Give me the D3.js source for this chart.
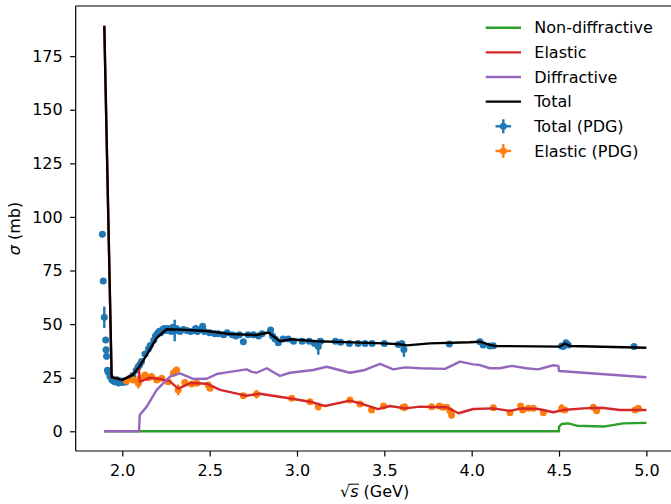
<!DOCTYPE html>
<html>
<head>
<meta charset="utf-8">
<script src="https://cdn.jsdelivr.net/npm/d3@7"></script>
<style>
  html, body { margin: 0; padding: 0; background: #fff; }
  svg { display: block; font-family: "DejaVu Sans", sans-serif; }
</style>
</head>
<body>
<svg id="chart" width="671" height="504"></svg>
<script>
// ---- model curves: sqrt(s) in GeV, cross sections in mb ----
const nonDiffX = [1.897, 4.5, 4.5, 4.515, 4.553, 4.601, 4.754, 4.868, 5.0];
const nonDiffY = [0, 0, 2.2, 3.4, 3.7, 2.6, 2.2, 3.7, 3.9];

const elasticX = [1.897, 1.939, 2.0, 2.06, 2.095, 2.1, 2.158, 2.216, 2.27, 2.32, 2.39, 2.483, 2.56,
  2.707, 2.788, 2.955, 3.074, 3.16, 3.303, 3.38, 3.465, 3.532, 3.618, 3.704, 3.771, 3.857, 3.925,
  4.009, 4.124, 4.219, 4.286, 4.381, 4.467, 4.524, 4.639, 4.744, 4.849, 5.0];
const elasticY = [189.2, 25.2, 24.0, 26.3, 29.8, 23.1, 25.0, 24.4, 23.4, 19.9, 22.5, 22.2, 19.3,
  16.6, 17.5, 15.4, 13.8, 11.8, 14.3, 12.6, 10.3, 11.8, 10.7, 11.5, 11.3, 11.2, 8.4,
  10.4, 10.7, 9.5, 10.7, 10.4, 8.9, 9.9, 10.7, 11.0, 9.9, 9.9];

const diffX = [1.897, 2.096, 2.1, 2.14, 2.197, 2.273, 2.33, 2.406, 2.483, 2.54, 2.616, 2.712, 2.741,
  2.769, 2.827, 2.903, 2.96, 3.093, 3.17, 3.303, 3.389, 3.475, 3.551, 3.618, 3.704, 3.847, 3.933,
  4.009, 4.047, 4.104, 4.161, 4.229, 4.314, 4.381, 4.467, 4.496, 4.5, 5.0];
const diffY = [0, 0, 7.6, 11.5, 19.3, 25.5, 27.0, 24.4, 24.5, 26.7, 27.7, 28.9, 27.7,
  27.3, 29.4, 25.8, 27.3, 28.6, 30.1, 27.3, 28.6, 31.4, 28.9, 29.8, 29.4, 29.1, 32.5,
  31.2, 30.9, 29.4, 29.4, 30.5, 29.4, 28.9, 30.8, 30.5, 28.1, 25.2];

const totalX = [1.897, 1.939, 2.0, 2.06, 2.1, 2.14, 2.197, 2.254, 2.33, 2.483, 2.616, 2.769, 2.836,
  2.903, 2.96, 3.113, 3.227, 3.495, 3.59, 3.628, 3.76, 3.99, 4.047, 4.104, 4.133, 4.506, 4.534,
  4.563, 5.0];
const totalY = [189.2, 25.3, 24.0, 26.3, 30.5, 35.6, 43.6, 47.6, 47.4, 46.8, 45.4, 44.9, 46.1,
  42.0, 42.9, 42.0, 41.7, 41.0, 40.6, 40.1, 41.0, 41.5, 41.8, 40.3, 39.8, 39.5, 41.0,
  39.8, 39.0];

// ---- measured points (PDG) ----
const pdgTotalX = [1.886, 1.891, 1.897, 1.905, 1.907, 1.910, 1.915, 1.920, 1.930, 1.940, 1.950, 1.960,
  1.970, 1.980, 1.990, 2.000, 2.010, 2.020, 2.040, 2.060, 2.080, 2.090, 2.100, 2.110, 2.130, 2.150,
  2.160, 2.180, 2.190, 2.200, 2.210, 2.220, 2.230, 2.240, 2.250, 2.260, 2.270, 2.280, 2.290, 2.300,
  2.310, 2.320, 2.330, 2.350, 2.370, 2.390, 2.410, 2.420, 2.430, 2.450, 2.460, 2.470, 2.500, 2.530,
  2.550, 2.580, 2.600, 2.630, 2.650, 2.670, 2.693, 2.720, 2.750, 2.780, 2.800, 2.849, 2.860, 2.875,
  2.893, 2.920, 2.950, 2.980, 3.030, 3.070, 3.100, 3.122, 3.135, 3.220, 3.250, 3.300, 3.350, 3.390,
  3.430, 3.500, 3.580, 3.600, 3.612, 3.872, 4.047, 4.066, 4.104, 4.124, 4.515, 4.524, 4.540, 4.553,
  4.929];
const pdgTotalY = [91.9, 70.1, 53.2, 42.6, 38.0, 35.0, 28.5, 27.5, 25.5, 24.0, 23.5, 23.0,
  24.0, 22.5, 23.5, 22.8, 23.5, 23.0, 24.5, 26.0, 28.5, 30.0, 31.0, 32.5, 36.0, 38.5,
  40.0, 42.5, 44.5, 45.5, 46.5, 46.0, 47.5, 48.0, 47.0, 48.0, 47.5, 46.5, 48.5, 47.0,
  48.0, 47.0, 46.5, 47.5, 47.0, 46.5, 47.0, 48.0, 46.5, 47.5, 49.0, 46.5, 46.0, 45.5,
  45.5, 45.0, 46.0, 45.0, 44.5, 45.0, 41.8, 45.0, 45.0, 44.5, 45.5, 47.3, 44.5, 43.0,
  41.3, 43.0, 43.0, 42.0, 42.0, 42.0, 41.0, 39.5, 42.0, 42.0, 41.5, 41.0, 41.0, 41.0,
  41.0, 41.0, 40.5, 41.0, 38.2, 40.7, 41.8, 40.3, 39.8, 39.9, 39.8, 39.5, 41.3, 40.3,
  39.5];
const pdgTotalErr = [1.0, 1.0, 5.0, 1.0, 1.0, 1.5, 1.0, 1.0, 1.0, 0.8, 0.8, 0.8,
  0.8, 0.8, 0.8, 0.8, 0.8, 0.8, 0.8, 0.8, 0.8, 0.8, 0.8, 0.8, 0.8, 0.8,
  0.8, 0.8, 0.8, 0.8, 0.8, 0.8, 0.8, 0.8, 0.8, 0.8, 0.8, 0.8, 1.0, 5.0,
  0.8, 0.8, 0.8, 0.8, 0.8, 0.8, 0.8, 1.5, 0.8, 0.8, 1.0, 0.8, 0.8, 0.8,
  0.8, 0.8, 0.8, 0.8, 0.8, 0.8, 1.0, 0.8, 0.8, 0.8, 0.8, 1.0, 0.8, 0.8,
  0.8, 0.8, 0.8, 0.8, 0.8, 0.8, 0.8, 3.8, 0.8, 0.8, 0.8, 0.8, 0.8, 0.8,
  0.8, 0.8, 0.8, 0.8, 3.5, 0.8, 0.8, 0.8, 0.8, 0.8, 0.8, 0.8, 1.0, 0.8,
  0.8];

const pdgElasticX = [2.025, 2.063, 2.092, 2.100, 2.110, 2.130, 2.150, 2.168, 2.197, 2.226, 2.263,
  2.292, 2.301, 2.311, 2.320, 2.358, 2.397, 2.426, 2.492, 2.502, 2.693, 2.769, 2.970, 3.074, 3.122,
  3.303, 3.360, 3.427, 3.495, 3.607, 3.618, 3.771, 3.815, 3.834, 3.857, 3.876, 3.885, 4.124, 4.219,
  4.280, 4.292, 4.324, 4.353, 4.410, 4.515, 4.534, 4.696, 4.715, 4.935, 4.954];
const pdgElasticY = [23.5, 23.9, 22.4, 24.7, 24.7, 26.3, 25.0, 25.5, 23.9, 24.7, 23.1,
  27.1, 27.8, 28.6, 19.3, 22.7, 22.1, 22.4, 21.6, 20.1, 16.6, 17.3, 15.4, 13.8, 11.5,
  14.6, 12.7, 9.9, 11.8, 11.2, 11.2, 11.5, 11.8, 11.2, 11.2, 9.6, 7.6, 11.0, 8.7,
  11.8, 9.9, 10.7, 10.7, 8.7, 10.7, 9.9, 11.2, 9.6, 9.9, 10.7];
const pdgElasticErr = [1.0, 1.0, 2.5, 1.0, 1.0, 1.0, 1.0, 1.0, 1.0, 1.0, 1.0,
  1.0, 1.0, 1.5, 2.5, 1.0, 1.0, 1.0, 1.0, 1.0, 1.0, 2.0, 1.0, 1.0, 1.8,
  1.0, 1.0, 1.0, 1.0, 1.0, 1.8, 1.0, 1.0, 1.0, 1.0, 1.0, 1.8, 1.0, 1.0,
  1.0, 1.0, 1.0, 1.0, 1.0, 2.0, 1.0, 1.0, 1.0, 1.0, 1.0];

const xTicks = [2.0, 2.5, 3.0, 3.5, 4.0, 4.5, 5.0];
const yTicks = [0, 25, 50, 75, 100, 125, 150, 175];

const colors = {
  nonDiff: "#2ca02c", elastic: "#d62728", diff: "#9467bd", total: "#000000",
  pdgTotal: "#1f77b4", pdgElastic: "#ff7f0e"
};

// ---- layout ----
const svg = d3.select("#chart");
const plotLeft = 75.7, plotRight = 673.6, plotTop = 6, plotBottom = 451;
const x = d3.scaleLinear().domain([1.7333, 5.1558]).range([plotLeft, plotRight]);
const y = d3.scaleLinear().domain([-9.2, 198.4]).range([plotBottom, plotTop]);
const fontSize = 16;
const lineW = 2.4;

svg.append("defs").append("clipPath").attr("id", "plotArea")
  .append("rect").attr("x", plotLeft).attr("y", plotTop)
  .attr("width", plotRight - plotLeft).attr("height", plotBottom - plotTop);

const plot = svg.append("g").attr("clip-path", "url(#plotArea)");

// measured points with error bars
function drawPoints(xs, ys, es, color) {
  const g = plot.append("g");
  const idx = d3.range(xs.length);
  g.selectAll("line.err").data(idx).join("line")
    .attr("x1", i => x(xs[i])).attr("x2", i => x(xs[i]))
    .attr("y1", i => y(ys[i] - es[i])).attr("y2", i => y(ys[i] + es[i]))
    .attr("stroke", color).attr("stroke-width", lineW);
  g.selectAll("circle").data(idx).join("circle")
    .attr("cx", i => x(xs[i])).attr("cy", i => y(ys[i]))
    .attr("r", 3.5).attr("fill", color);
}
drawPoints(pdgTotalX, pdgTotalY, pdgTotalErr, colors.pdgTotal);
drawPoints(pdgElasticX, pdgElasticY, pdgElasticErr, colors.pdgElastic);

// model curves
const line = d3.line().x(d => x(d[0])).y(d => y(d[1]));
function drawCurve(xs, ys, color) {
  plot.append("path")
    .attr("d", line(xs.map((v, i) => [v, ys[i]])))
    .attr("fill", "none").attr("stroke", color)
    .attr("stroke-width", lineW).attr("stroke-linejoin", "round")
    .attr("stroke-linecap", "butt");
}
drawCurve(nonDiffX, nonDiffY, colors.nonDiff);
drawCurve(elasticX, elasticY, colors.elastic);
drawCurve(diffX, diffY, colors.diff);
drawCurve(totalX, totalY, colors.total);

// axes
const xAxis = d3.axisBottom(x).tickValues(xTicks).tickFormat(d3.format(".1f"))
  .tickSize(5.6).tickPadding(8);
const yAxis = d3.axisLeft(y).tickValues(yTicks).tickFormat(d3.format("d"))
  .tickSize(5.6).tickPadding(7.4);

const gx = svg.append("g").attr("transform", `translate(0,${plotBottom})`).call(xAxis);
const gy = svg.append("g").attr("transform", `translate(${plotLeft},0)`).call(yAxis);
[gx, gy].forEach(g => {
  g.select(".domain").remove();
  g.selectAll(".tick line").attr("stroke", "#000").attr("stroke-width", 1.2);
  g.selectAll(".tick text").attr("fill", "#000")
    .style("font-family", "DejaVu Sans").style("font-size", fontSize + "px");
});

// spines
const spine = svg.append("g").attr("stroke", "#000").attr("stroke-width", 1.2).attr("fill", "none");
spine.append("line").attr("x1", plotLeft).attr("x2", plotLeft).attr("y1", plotTop).attr("y2", plotBottom);
spine.append("line").attr("x1", plotLeft).attr("x2", plotRight).attr("y1", plotBottom).attr("y2", plotBottom);
spine.append("line").attr("x1", plotLeft).attr("x2", plotRight).attr("y1", plotTop).attr("y2", plotTop);
spine.append("line").attr("x1", plotRight).attr("x2", plotRight).attr("y1", plotTop).attr("y2", plotBottom);

// axis labels
const xl = svg.append("text")
  .attr("x", (plotLeft + plotRight) / 2).attr("y", 497)
  .attr("text-anchor", "middle").style("font-size", fontSize + "px");
xl.append("tspan").text("\u221A");
xl.append("tspan").style("font-style", "italic").text("s");
xl.append("tspan").text(" (GeV)");
// radical bar over s
{
  const node = xl.node();
  const start = node.getStartPositionOfChar(0);
  const end = node.getEndPositionOfChar(1);
  const rootEnd = node.getEndPositionOfChar(0);
  svg.append("line")
    .attr("x1", rootEnd.x - 1.5).attr("x2", end.x + 0.5)
    .attr("y1", start.y - 12.8).attr("y2", start.y - 12.8)
    .attr("stroke", "#000").attr("stroke-width", 1);
}

const yl = svg.append("text")
  .attr("transform", `translate(20,${(plotTop + plotBottom) / 2}) rotate(-90)`)
  .attr("text-anchor", "middle").style("font-size", fontSize + "px");
yl.append("tspan").style("font-style", "italic").text("\u03C3");
yl.append("tspan").text(" (mb)");

// legend
const legendItems = [
  { label: "Non-diffractive", color: colors.nonDiff, kind: "line" },
  { label: "Elastic", color: colors.elastic, kind: "line" },
  { label: "Diffractive", color: colors.diff, kind: "line" },
  { label: "Total", color: colors.total, kind: "line" },
  { label: "Total (PDG)", color: colors.pdgTotal, kind: "err" },
  { label: "Elastic (PDG)", color: colors.pdgElastic, kind: "err" }
];
const lg = svg.append("g");
legendItems.forEach((item, i) => {
  const cy = 27.7 + i * 24.65;
  const row = lg.append("g");
  if (item.kind === "line") {
    row.append("line").attr("x1", 485.7).attr("x2", 521).attr("y1", cy).attr("y2", cy)
      .attr("stroke", item.color).attr("stroke-width", lineW);
  } else {
    row.append("line").attr("x1", 495.5).attr("x2", 511.1).attr("y1", cy).attr("y2", cy)
      .attr("stroke", item.color).attr("stroke-width", lineW);
    row.append("line").attr("x1", 503.3).attr("x2", 503.3).attr("y1", cy - 7).attr("y2", cy + 7)
      .attr("stroke", item.color).attr("stroke-width", lineW);
    row.append("circle").attr("cx", 503.3).attr("cy", cy).attr("r", 3.5).attr("fill", item.color);
  }
  row.append("text").attr("x", 534.3).attr("y", cy).attr("dy", "0.36em")
    .style("font-size", fontSize + "px").text(item.label);
});
</script>
</body>
</html>
